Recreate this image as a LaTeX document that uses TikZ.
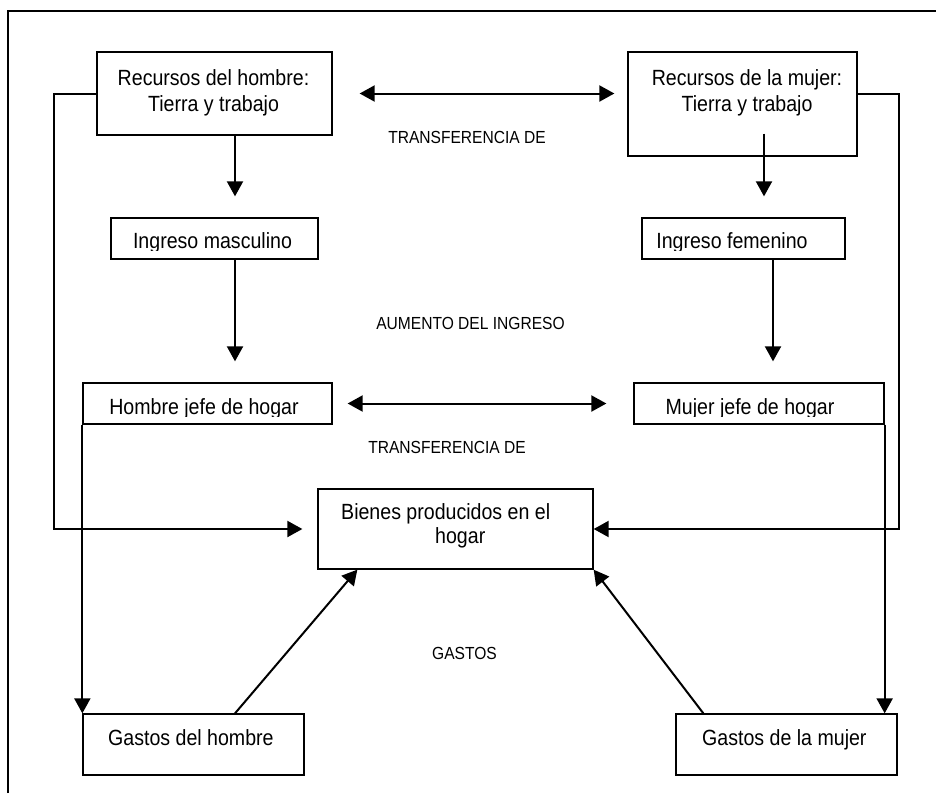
\documentclass[tikz,border=0pt]{standalone}
\usepackage{fontspec}
\setmainfont[FakeStretch=0.89]{Liberation Sans}
\usetikzlibrary{
    arrows.meta,
    calc,
    positioning
}

\newcommand{\boxfont}{\fontsize{22}{26}\selectfont}
\newcommand{\notefont}{\fontsize{17.5}{21}\selectfont}

\begin{document}
\begin{tikzpicture}[x=1pt, y=-1pt,
    box/.style={draw, line width=1.3pt, inner sep=0pt},
    txt/.style={inner sep=0pt, font=\boxfont},
    note/.style={inner sep=0pt, font=\notefont, anchor=base},
    arr/.style={line width=2pt, -{Triangle[length=15pt, width=16pt]}},
    darr/.style={line width=2pt, {Triangle[length=15pt, width=16pt]}-{Triangle[length=15pt, width=16pt]}}]
    \useasboundingbox (0,0) rectangle (936,793);
    % frame
    \draw[line width=1.5pt] (8,793) -- (8,11) -- (936,11);

    % boxes
    \node[box, minimum width=235pt, minimum height=83pt] (rh) at (214.5,93.5) {};
    \node[box, minimum width=229pt, minimum height=104pt] (rm) at (742.5,104) {};
    \node[box, minimum width=207pt, minimum height=41pt] (im) at (214.5,238.5) {};
    \node[box, minimum width=203pt, minimum height=41pt] (if) at (743.5,238.5) {};
    \node[box, minimum width=249pt, minimum height=41pt] (hj) at (207.5,403.5) {};
    \node[box, minimum width=250pt, minimum height=41pt] (mj) at (759,403.5) {};
    \node[box, minimum width=275pt, minimum height=80pt] (bp) at (455.5,529) {};
    \node[box, minimum width=221pt, minimum height=61pt] (gh) at (193.5,744.5) {};
    \node[box, minimum width=221pt, minimum height=61pt] (gm) at (786.5,744.5) {};

    % texts
    \node[txt, align=center] (rh-t) at (213.5,93.3) {Recursos del hombre:\\Tierra y trabajo};
    \node[txt, align=center] (rm-t) at (747,93.3) {Recursos de la mujer:\\Tierra y trabajo};
    \begin{scope}
        \clip (im.north west) rectangle (318,250.5);
        \node[txt, anchor=base] (im-t) at (212.5,248.5) {Ingreso masculino};
    \end{scope}
    \begin{scope}
        \clip (if.north west) rectangle (845,250.5);
        \node[txt, anchor=base] (if-t) at (732,248.5) {Ingreso femenino};
    \end{scope}
    \begin{scope}
        \clip (hj.north west) rectangle (332,416.5);
        \node[txt, anchor=base] (hj-t) at (204,414.5) {Hombre jefe de hogar};
    \end{scope}
    \begin{scope}
        \clip (mj.north west) rectangle (884,416.5);
        \node[txt, anchor=base] (mj-t) at (750,414.5) {Mujer jefe de hogar};
    \end{scope}
    \node[txt, anchor=base west] (bp-t1) at (341,519) {Bienes producidos en el};
    \node[txt, anchor=base west] (bp-t2) at (435,543) {hogar};
    \node[txt, anchor=base west] (gh-t) at (108,745) {Gastos del hombre};
    \node[txt, anchor=base west] (gm-t) at (702,745) {Gastos de la mujer};

    % notes
    \node[note] (n1) at (467,143) {TRANSFERENCIA DE};
    \node[note] (n2) at (470.5,329) {AUMENTO DEL INGRESO};
    \node[note] (n3) at (447,453) {TRANSFERENCIA DE};
    \node[note] (n4) at (464.5,659) {GASTOS};

    % arrows
    \draw[darr, shorten <=27pt, shorten >=13pt] (rh.east) -- (rh.east -| rm.west);
    \draw[darr, shorten <=15pt, shorten >=27pt] (hj.east) -- (hj.east -| mj.west);
    \draw[arr, shorten >=21pt] ([xshift=20.5pt]rh.south) -- ([xshift=20.5pt]im.north);
    \draw[arr, shorten >=21pt] ([xshift=21.5pt, yshift=23pt]rm.south) -- ([xshift=20.5pt]if.north);
    \draw[arr, shorten >=21pt] ([xshift=20.5pt]im.south) -- ([xshift=20.5pt]im.south |- hj.north);
    \draw[arr, shorten >=21pt] ([xshift=29.5pt]if.south) -- ([xshift=29.5pt]if.south |- mj.north);
    \draw[arr, shorten >=15pt] (rh.west) -- ++(-42,0) |- (bp.west);
    \draw[arr] ([yshift=10pt]rm.east) -- ++(41,0) |- (bp.east);
    \draw[arr] (hj.south west) -- (hj.south west |- gh.north);
    \draw[arr] (mj.south east) -- (mj.south east |- gm.north);
    \draw[arr] ([xshift=41.5pt]gh.north) -- ([xshift=40pt]bp.south west);
    \draw[arr] ([xshift=28pt]gm.north west) -- (bp.south east);
\end{tikzpicture}
\end{document}
